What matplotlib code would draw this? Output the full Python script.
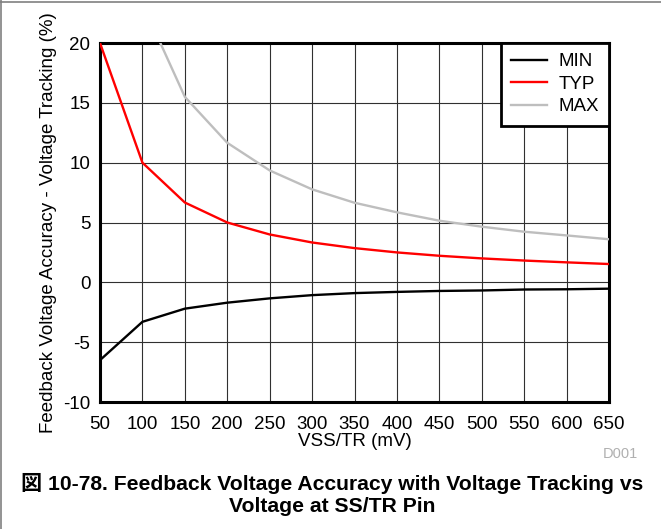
import matplotlib
matplotlib.use('Agg')
import matplotlib.pyplot as plt
from matplotlib.lines import Line2D

plt.rcParams['font.family'] = ['Liberation Sans', 'Noto Sans CJK JP', 'DejaVu Sans']
plt.rcParams['axes.unicode_minus'] = False

vss = [50, 100, 150, 200, 250, 300, 350, 400, 450, 500, 550, 600, 650]
minVals = [-6.5, -3.3, -2.2, -1.7, -1.34, -1.07, -0.9, -0.8, -0.72, -0.68, -0.6, -0.58, -0.53]
typVals = [20.0, 10.0, 6.67, 5.0, 4.0, 3.33, 2.86, 2.5, 2.22, 2.0, 1.82, 1.67, 1.53]
maxVals = [46.6, 23.3, 15.5, 11.66, 9.35, 7.77, 6.65, 5.85, 5.15, 4.65, 4.23, 3.92, 3.6]
xTicks = list(range(50, 651, 50))
yTicks = list(range(-10, 21, 5))

fig = plt.figure(figsize=(6.61, 5.29), dpi=100)
ax = fig.add_axes([100 / 661, 1 - 402 / 529, 509 / 661, 359 / 529])

ax.plot(vss, minVals, color='black', lw=1.7, label='MIN', zorder=3)
ax.plot(vss, typVals, color='#ff0000', lw=1.7, label='TYP', zorder=3)
ax.plot(vss, maxVals, color='#bebebe', lw=1.7, label='MAX', zorder=3)

ax.set_xlim(50, 650)
ax.set_ylim(-10, 20)
ax.set_xticks(xTicks)
ax.set_yticks(yTicks)
ax.grid(True, color='#303030', lw=0.8)
ax.tick_params(axis='both', length=0, labelsize=13.5)
ax.tick_params(axis='x', pad=10)
ax.tick_params(axis='y', pad=7)
for s in ax.spines.values():
    s.set_linewidth(2.2)

ax.set_xlabel('VSS/TR (mV)', fontsize=13.5, labelpad=0)
ax.set_ylabel('Feedback Voltage Accuracy - Voltage Tracking (%)', fontsize=13.5, labelpad=4)

leg = ax.legend(loc='upper right', borderaxespad=0, fancybox=False, framealpha=1,
                edgecolor='black', fontsize=13.5, handlelength=1.9, labelspacing=0.28,
                borderpad=0.55, handletextpad=0.6)
leg.get_frame().set_linewidth(2)

fig.text(620 / 661, 1 - 454 / 529, 'D001', color='#b0b0b0', fontsize=10.5, ha='center', va='center')
fig.text(0.502, 1 - 483 / 529, '図 10-78. Feedback Voltage Accuracy with Voltage Tracking vs',
         fontsize=15.2, fontweight='bold', ha='center', va='center')
fig.text(0.502, 1 - 507 / 529, 'Voltage at SS/TR Pin',
         fontsize=15.2, fontweight='bold', ha='center', va='center')

# thin frame around the figure (top and left)
fig.add_artist(Line2D([0, 1], [1 - 2 / 529, 1 - 2 / 529], color='#808080', lw=1.2))
fig.add_artist(Line2D([1 / 661, 1 / 661], [0, 1], color='#808080', lw=1.2))

fig.savefig('out.png', dpi=100)
